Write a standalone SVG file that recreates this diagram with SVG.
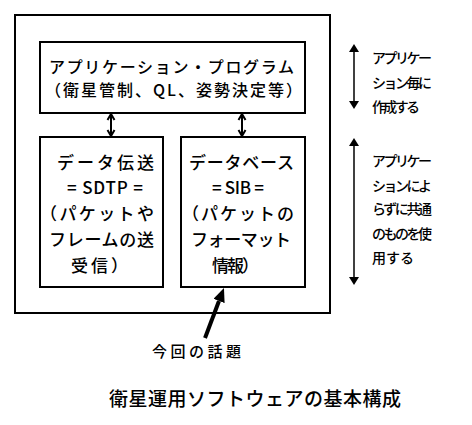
<svg xmlns="http://www.w3.org/2000/svg" width="472" height="425" viewBox="0 0 472 425">
<style>
.box{fill:#fff;stroke:#000;stroke-width:2}
.t{font-family:"Noto Sans CJK JP","Liberation Sans",sans-serif;fill:#000;font-weight:500}
.app{font-size:16px}
.sub{font-size:17px}
.side{font-size:14px}
.lbl{font-size:15px}
.cap{font-size:19px}
.conn{stroke:#000;fill:none}
</style>
<defs>
<marker id="open" markerUnits="userSpaceOnUse" markerWidth="10" markerHeight="10" viewBox="0 0 10 10" refX="8" refY="5" orient="auto-start-reverse">
<path d="M2,1.5 L8,5 L2,8.5" fill="none" stroke="#000" stroke-width="2"/>
</marker>
<marker id="fill" markerUnits="userSpaceOnUse" markerWidth="8" markerHeight="10" viewBox="0 0 8 10" refX="0" refY="5" orient="auto-start-reverse">
<path d="M0,0 L8,5 L0,10 z" fill="#000"/>
</marker>
<marker id="big" markerUnits="userSpaceOnUse" markerWidth="14" markerHeight="12" viewBox="0 0 14 12" refX="0" refY="6" orient="auto">
<path d="M0,0 L14,6 L0,12 z" fill="#000"/>
</marker>
</defs>
<rect width="472" height="425" fill="#fff"/>

<g id="outer">
<rect class="box" x="15" y="15" width="315" height="298"/>
</g>

<g id="app">
<rect class="box" x="40" y="42" width="265" height="71"/>
<text class="t app" x="49" y="73" textLength="245" lengthAdjust="spacing">アプリケーション・プログラム</text>
<text class="t app" x="45" y="96" textLength="257" lengthAdjust="spacing">（衛星管制、QL、姿勢決定等）</text>
</g>

<g id="sdtp">
<rect class="box" x="40" y="137" width="123" height="150"/>
<text class="t sub" x="57" y="169" textLength="97" lengthAdjust="spacing">データ伝送</text>
<text class="t sub" x="67" y="194" textLength="76" lengthAdjust="spacing">= SDTP =</text>
<text class="t sub" x="40" y="220" textLength="114" lengthAdjust="spacing">（パケットや</text>
<text class="t sub" x="49" y="246" textLength="105" lengthAdjust="spacing">フレームの送</text>
<text class="t sub" x="71" y="271.5" textLength="57" lengthAdjust="spacing">受信）</text>
</g>

<g id="sib">
<rect class="box" x="181" y="137" width="124" height="150"/>
<text class="t sub" x="189" y="169" textLength="105" lengthAdjust="spacing">データベース</text>
<text class="t sub" x="212" y="194" textLength="52" lengthAdjust="spacing">= SIB =</text>
<text class="t sub" x="182" y="220" textLength="112" lengthAdjust="spacing">（パケットの</text>
<text class="t sub" x="191" y="246" textLength="100" lengthAdjust="spacing">フォーマット</text>
<text class="t sub" x="212" y="271.5" textLength="47" lengthAdjust="spacing">情報）</text>
</g>

<g id="side1">
<text class="t side" x="372" y="62.5" textLength="60" lengthAdjust="spacing">アプリケー</text>
<text class="t side" x="372" y="87.5" textLength="60" lengthAdjust="spacing">ション毎に</text>
<text class="t side" x="372" y="111.5" textLength="48" lengthAdjust="spacing">作成する</text>
</g>

<g id="side2">
<text class="t side" x="372" y="166" textLength="60" lengthAdjust="spacing">アプリケー</text>
<text class="t side" x="372" y="191" textLength="60" lengthAdjust="spacing">ションによ</text>
<text class="t side" x="372" y="214" textLength="60" lengthAdjust="spacing">らずに共通</text>
<text class="t side" x="372" y="238.5" textLength="60" lengthAdjust="spacing">のものを使</text>
<text class="t side" x="372" y="262.5" textLength="42" lengthAdjust="spacing">用する</text>
</g>

<g id="topic">
<text class="t lbl" x="152" y="357" textLength="89" lengthAdjust="spacing">今回の話題</text>
</g>

<g id="caption">
<text class="t cap" x="109" y="405.5" textLength="292" lengthAdjust="spacing">衛星運用ソフトウェアの基本構成</text>
</g>

<g id="connectors">
<line class="conn" x1="111" y1="114" x2="111" y2="136" stroke-width="2" marker-start="url(#open)" marker-end="url(#open)"/>
<line class="conn" x1="242" y1="114" x2="242" y2="136" stroke-width="2" marker-start="url(#open)" marker-end="url(#open)"/>
<line class="conn" x1="354" y1="52" x2="354" y2="101" stroke-width="1.5" marker-start="url(#fill)" marker-end="url(#fill)"/>
<line class="conn" x1="354" y1="146" x2="354" y2="277" stroke-width="1.5" marker-start="url(#fill)" marker-end="url(#fill)"/>
<line class="conn" x1="205" y1="338" x2="219" y2="301" stroke-width="4" marker-end="url(#big)"/>
</g>
</svg>
